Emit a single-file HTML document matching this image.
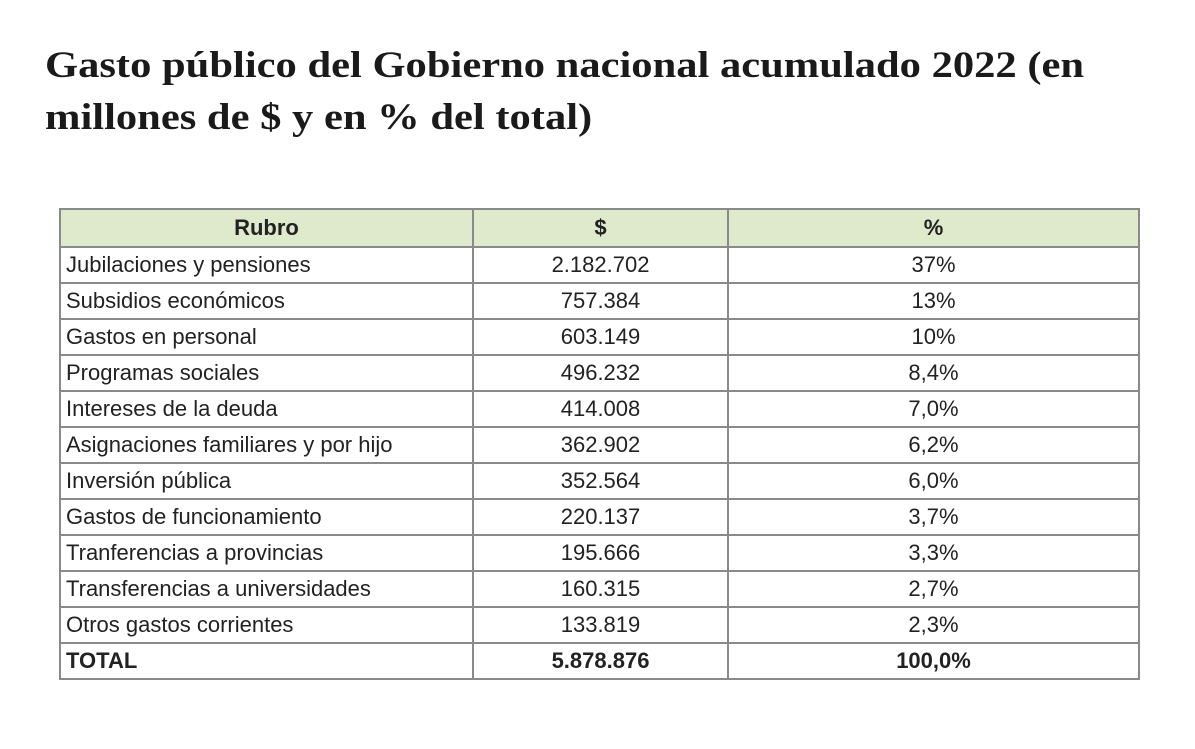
<!DOCTYPE html>
<html><head><meta charset="utf-8"><style>
body{margin:0;width:1195px;height:749px;background:#fff;position:relative;overflow:hidden}
h1{position:absolute;left:45px;top:40px;margin:0;font-family:"Liberation Serif",serif;font-weight:bold;font-size:37px;line-height:52px;color:#1a1a1a;width:905px;transform:scaleX(1.15);transform-origin:0 0}
table{position:absolute;left:59px;top:208px;border-collapse:collapse;font-family:"Liberation Sans",sans-serif;font-size:22px;color:#222}
td{border:2px solid #8a8a8a;height:34px;padding:0 5px;line-height:34px;white-space:nowrap}
tr.h td{background:#dfe9cc;font-weight:bold;text-align:center;height:36px}
td.c{text-align:center}
tr.t td{font-weight:bold}
</style></head><body>
<h1>Gasto público del Gobierno nacional acumulado 2022 (en millones de $ y en % del total)</h1>
<table>
<colgroup><col style="width:413px"><col style="width:255px"><col style="width:411px"></colgroup>
<tr class="h"><td>Rubro</td><td>$</td><td>%</td></tr>
<tr><td>Jubilaciones y pensiones</td><td class="c">2.182.702</td><td class="c">37%</td></tr>
<tr><td>Subsidios económicos</td><td class="c">757.384</td><td class="c">13%</td></tr>
<tr><td>Gastos en personal</td><td class="c">603.149</td><td class="c">10%</td></tr>
<tr><td>Programas sociales</td><td class="c">496.232</td><td class="c">8,4%</td></tr>
<tr><td>Intereses de la deuda</td><td class="c">414.008</td><td class="c">7,0%</td></tr>
<tr><td>Asignaciones familiares y por hijo</td><td class="c">362.902</td><td class="c">6,2%</td></tr>
<tr><td>Inversión pública</td><td class="c">352.564</td><td class="c">6,0%</td></tr>
<tr><td>Gastos de funcionamiento</td><td class="c">220.137</td><td class="c">3,7%</td></tr>
<tr><td>Tranferencias a provincias</td><td class="c">195.666</td><td class="c">3,3%</td></tr>
<tr><td>Transferencias a universidades</td><td class="c">160.315</td><td class="c">2,7%</td></tr>
<tr><td>Otros gastos corrientes</td><td class="c">133.819</td><td class="c">2,3%</td></tr>
<tr class="t"><td>TOTAL</td><td class="c">5.878.876</td><td class="c">100,0%</td></tr>
</table>
</body></html>
